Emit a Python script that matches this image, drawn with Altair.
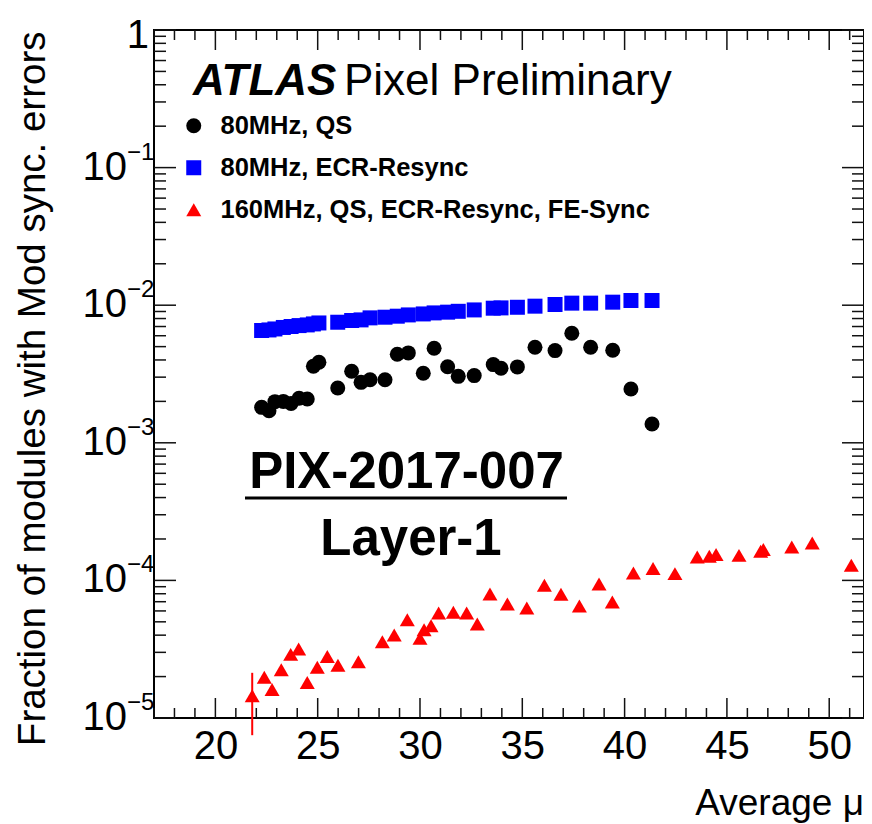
import altair as alt
import pandas as pd

# ---------------- data ----------------
mu_80 = [22.26, 22.62, 22.91, 23.32, 23.70, 24.09, 24.49, 24.79, 25.06, 25.98,
         26.66, 27.12, 27.56, 28.29, 28.89, 29.43, 30.16, 30.69, 31.35, 31.87,
         32.65, 33.58, 33.96, 34.76, 35.62, 36.60, 37.42, 38.34, 39.42, 40.31, 41.34]
frac_qs = [1.81e-3, 1.71e-3, 1.99e-3, 2.00e-3, 1.93e-3, 2.11e-3, 2.08e-3, 3.60e-3,
           3.85e-3, 2.50e-3, 3.31e-3, 2.75e-3, 2.87e-3, 2.87e-3, 4.40e-3, 4.50e-3,
           3.20e-3, 4.87e-3, 3.57e-3, 3.04e-3, 3.08e-3, 3.70e-3, 3.48e-3, 3.56e-3,
           4.95e-3, 4.68e-3, 6.26e-3, 4.95e-3, 4.71e-3, 2.46e-3, 1.37e-3]
frac_ecr = [6.55e-3, 6.61e-3, 6.72e-3, 6.89e-3, 7.00e-3, 7.11e-3, 7.19e-3, 7.31e-3,
            7.43e-3, 7.52e-3, 7.74e-3, 7.82e-3, 8.09e-3, 8.18e-3, 8.32e-3, 8.50e-3,
            8.64e-3, 8.79e-3, 8.90e-3, 9.03e-3, 9.24e-3, 9.51e-3, 9.56e-3, 9.66e-3,
            9.84e-3, 1.012e-2, 1.035e-2, 1.035e-2, 1.052e-2, 1.082e-2, 1.082e-2]
mu_160 = [21.80, 22.39, 22.77, 23.22, 23.68, 24.07, 24.49, 24.98, 25.47, 25.99,
          26.99, 28.16, 28.74, 29.38, 30.00, 30.20, 30.54, 30.91, 31.63, 32.28,
          32.80, 33.42, 34.27, 35.22, 36.08, 36.89, 37.79, 38.75, 39.40, 40.43,
          41.39, 42.46, 43.55, 44.14, 44.47, 45.59, 46.65, 46.78, 48.17, 49.17, 51.08]
frac_160 = [1.45e-5, 1.98e-5, 1.61e-5, 2.24e-5, 2.90e-5, 3.17e-5, 1.81e-5, 2.34e-5,
            2.80e-5, 2.42e-5, 2.56e-5, 3.58e-5, 4.01e-5, 5.18e-5, 3.79e-5, 4.38e-5,
            4.69e-5, 5.80e-5, 5.86e-5, 5.80e-5, 4.82e-5, 7.98e-5, 6.74e-5, 6.30e-5,
            9.21e-5, 7.92e-5, 6.52e-5, 9.43e-5, 6.97e-5, 1.13e-4, 1.22e-4, 1.12e-4,
            1.48e-4, 1.50e-4, 1.54e-4, 1.52e-4, 1.63e-4, 1.68e-4, 1.75e-4, 1.87e-4, 1.29e-4]

err_mu = [21.80]
err_lo = [7.5e-6]
err_hi = [2.13e-5]

series_names = ["80MHz, QS", "80MHz, ECR-Resync", "160MHz, QS, ECR-Resync, FE-Sync"]
series_colors = ["#000000", "#0000ff", "#ff0000"]
series_shapes = ["circle", "square", "triangle-up"]

x_major = [20, 25, 30, 35, 40, 45, 50]
x_minor = [17, 18, 19, 21, 22, 23, 24, 26, 27, 28, 29, 31, 32, 33, 34, 36, 37, 38, 39,
           41, 42, 43, 44, 46, 47, 48, 49, 51]
y_major = [1e-5, 1e-4, 1e-3, 1e-2, 1e-1, 1.0]
y_minor = [k * d for d in [1e-5, 1e-4, 1e-3, 1e-2, 1e-1] for k in range(2, 10)]
ylab_vals = [1e-5, 1e-4, 1e-3, 1e-2, 1e-1]
ylab_base = ["10", "10", "10", "10", "10"]
ylab_exp = ["\u22125", "\u22124", "\u22123", "\u22122", "\u22121"]

FONT = "Liberation Sans"
W, H = 710, 688

df = pd.DataFrame({
    "mu": mu_80 + mu_80 + mu_160,
    "frac": frac_qs + frac_ecr + frac_160,
    "series": [series_names[0]] * len(mu_80) + [series_names[1]] * len(mu_80)
              + [series_names[2]] * len(mu_160),
    "ord": list(range(len(mu_80) * 2 + len(mu_160))),
})

xscale = alt.Scale(domain=[17, 51.7], nice=False, zero=False)
yscale = alt.Scale(type="log", domain=[1e-5, 1], nice=False)
xaxis = alt.Axis(values=x_major, format="d", ticks=False, domain=False, grid=False,
                 title=None, labelFont=FONT, labelFontSize=40, labelColor="black",
                 labelPadding=8, labelFlush=False, labelOverlap=False)


def X(f):
    return alt.X(f, type="quantitative", scale=xscale, axis=xaxis)


def Y(f):
    return alt.Y(f, type="quantitative", scale=yscale, axis=None)


leg = alt.Legend(title=None, orient="none", legendX=27, legendY=83, padding=0,
                 symbolSize=225, symbolStrokeWidth=0, symbolOpacity=1,
                 labelFont=FONT, labelFontWeight="bold", labelFontSize=25.5,
                 labelColor="black", labelOffset=14, labelLimit=1000, rowPadding=15)

points = alt.Chart(df).mark_point(filled=True, opacity=1, size=225, strokeWidth=0).encode(
    x=X("mu"), y=Y("frac"),
    color=alt.Color("series:N", scale=alt.Scale(domain=series_names, range=series_colors), legend=leg),
    shape=alt.Shape("series:N", scale=alt.Scale(domain=series_names, range=series_shapes), legend=leg),
    order=alt.Order("ord:Q"),
)

err = alt.Chart(pd.DataFrame({"mu": err_mu, "lo": err_lo, "hi": err_hi})).mark_rule(
    color="#ff0000", strokeWidth=2).encode(x=X("mu"), y=Y("lo"), y2="hi")

tick_col = "#111111"
tdx_maj = pd.DataFrame({"v": x_major})
tdx_min = pd.DataFrame({"v": x_minor})
tdy_maj = pd.DataFrame({"v": y_major})
tdy_min = pd.DataFrame({"v": y_minor})


def xticks(d, L):
    bot = alt.Chart(d).mark_rule(color=tick_col, strokeWidth=1.5).encode(
        x=X("v"), y=alt.value(H), y2=alt.value(H - L))
    top = alt.Chart(d).mark_rule(color=tick_col, strokeWidth=1.5).encode(
        x=X("v"), y=alt.value(0), y2=alt.value(L))
    return [bot, top]


def yticks(d, L):
    lft = alt.Chart(d).mark_rule(color=tick_col, strokeWidth=1.5).encode(
        y=Y("v"), x=alt.value(0), x2=alt.value(L))
    rgt = alt.Chart(d).mark_rule(color=tick_col, strokeWidth=1.5).encode(
        y=Y("v"), x=alt.value(W), x2=alt.value(W - L))
    return [lft, rgt]


ticks = xticks(tdx_maj, 20) + xticks(tdx_min, 10) + yticks(tdy_maj, 22) + yticks(tdy_min, 12)

ylab_df = pd.DataFrame({"v": ylab_vals, "base": ylab_base, "exp": ylab_exp})
ybase = alt.Chart(ylab_df).mark_text(font=FONT, fontSize=40, align="right", baseline="middle",
                                      color="black").encode(y=Y("v"), x=alt.value(-27), text="base:N")
yexp = alt.Chart(ylab_df).mark_text(font=FONT, fontSize=24, align="left", baseline="middle",
                                     color="black", dy=-15).encode(y=Y("v"), x=alt.value(-27), text="exp:N")
yone = alt.Chart(pd.DataFrame({"v": [1.0], "t": ["1"]})).mark_text(
    font=FONT, fontSize=40, align="right", baseline="middle", color="black", dy=6).encode(
    y=Y("v"), x=alt.value(-5), text="t:N")

one = pd.DataFrame({"a": [0]})


def label(txt, x, y, size, weight="normal", style="normal", align="left", angle=0):
    kw = dict(text=txt, font=FONT, fontSize=size, fontWeight=weight, fontStyle=style,
              align=align, baseline="alphabetic", color="black")
    if angle:
        kw["angle"] = angle
    return alt.Chart(one).mark_text(**kw).encode(x=alt.value(x), y=alt.value(y))


texts = [
    label("ATLAS", 39, 64.5, 44, weight="bold", style="italic"),
    label("Pixel Preliminary", 190, 64.5, 44),
    label("PIX-2017-007", 252.5, 458, 51, weight="bold", align="center"),
    label("Layer-1", 257, 525, 51, weight="bold", align="center"),
    label("Average \u03bc", W, 785, 37, align="right"),
    label("Fraction of modules with Mod sync. errors", -109, 1.5, 38.5, align="right", angle=270),
]
underline = alt.Chart(one).mark_rule(color="black", strokeWidth=3).encode(
    x=alt.value(91), x2=alt.value(413), y=alt.value(468))

chart = alt.layer(*ticks, points, err, ybase, yexp, yone, *texts, underline).properties(
    width=W, height=H,
    autosize=alt.AutoSizeParams(type="none"),
    padding={"left": 146, "top": 22, "right": 0, "bottom": 106},
    background="white",
).configure_view(stroke="black", strokeWidth=2)

chart.save("out.html", embed_options={"renderer": "svg", "actions": False})
